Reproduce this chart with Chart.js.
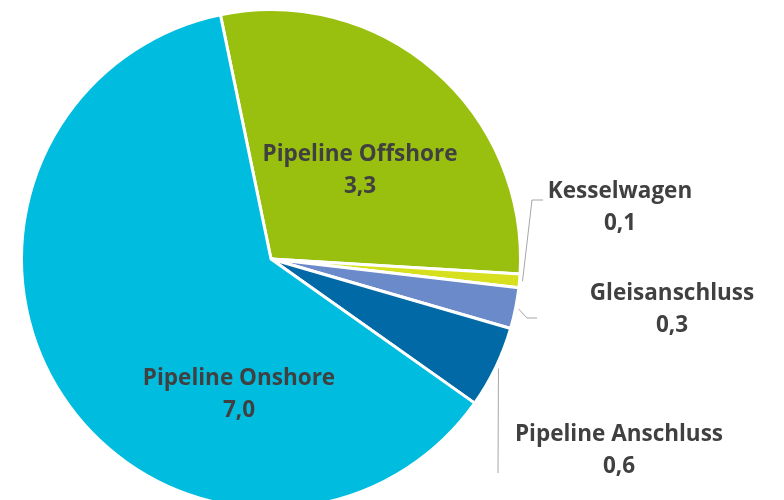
<!DOCTYPE html>
<html>
<head>
<meta charset="utf-8">
<script src="https://cdn.jsdelivr.net/npm/chart.js@4.4.1/dist/chart.umd.min.js"></script>
<style>
  html, body { margin: 0; padding: 0; background: #fff; overflow: hidden; }
  #wrap { position: relative; width: 784px; height: 510px; }
</style>
</head>
<body>
<div id="wrap"><canvas id="pieChart"></canvas></div>
<script>
// Werte
const categories = ["Pipeline Offshore", "Kesselwagen", "Gleisanschluss", "Pipeline Anschluss", "Pipeline Onshore"];
const values = [3.3, 0.1, 0.3, 0.6, 7.0];
const colors = ["#99bf0f", "#d7e01e", "#6b8ac9", "#0069a6", "#00bde0"];

// Beschriftung: Versatz der Textmitte gegenüber der Kreismitte (px)
const labelOffsets = [[89, -88], [349, -51], [401, 51], [348, 192], [-32, 136]];
// Führungslinien: Knick/Ende relativ zur Textmitte, null = keine Linie
const leaders = [
  null,
  [[-88, -8], [-77, -8]],
  [[-145, 8], [-135, 8]],
  [[-121, 22]],
  null
];

const fmt = v => v.toFixed(1).replace(".", ",");

const labelPlugin = {
  id: "pieLabels",
  afterDatasetsDraw(chart) {
    const ctx = chart.ctx;
    const arcs = chart.getDatasetMeta(0).data;
    ctx.save();
    arcs.forEach((arc, i) => {
      const { x: cx, y: cy, outerRadius, startAngle, endAngle } = arc.getProps(["x", "y", "outerRadius", "startAngle", "endAngle"], true);
      const lx = cx + labelOffsets[i][0];
      const ly = cy + labelOffsets[i][1];

      if (leaders[i]) {
        const mid = (startAngle + endAngle) / 2;
        ctx.strokeStyle = "#a6a6a6";
        ctx.lineWidth = 1;
        ctx.beginPath();
        ctx.moveTo(cx + Math.cos(mid) * (outerRadius + 3), cy + Math.sin(mid) * (outerRadius + 3));
        leaders[i].forEach(p => ctx.lineTo(lx + p[0], ly + p[1]));
        ctx.stroke();
      }

      ctx.fillStyle = "#404040";
      ctx.font = "bold 22.5px 'Open Sans'";
      ctx.textAlign = "center";
      ctx.textBaseline = "middle";
      ctx.fillText(categories[i], lx, ly - 16);
      ctx.fillText(fmt(values[i]), lx, ly + 16);
    });
    ctx.restore();
  }
};

new Chart(document.getElementById("pieChart"), {
  type: "pie",
  data: {
    labels: categories,
    datasets: [{
      data: values,
      backgroundColor: colors,
      borderColor: "#ffffff",
      borderWidth: 3
    }]
  },
  options: {
    responsive: true,
    maintainAspectRatio: false,
    animation: false,
    rotation: -11.7,
    layout: { padding: { left: 20, top: 8, right: 262, bottom: 0 } },
    plugins: {
      legend: { display: false },
      tooltip: { enabled: false }
    }
  },
  plugins: [labelPlugin]
});
</script>
</body>
</html>
